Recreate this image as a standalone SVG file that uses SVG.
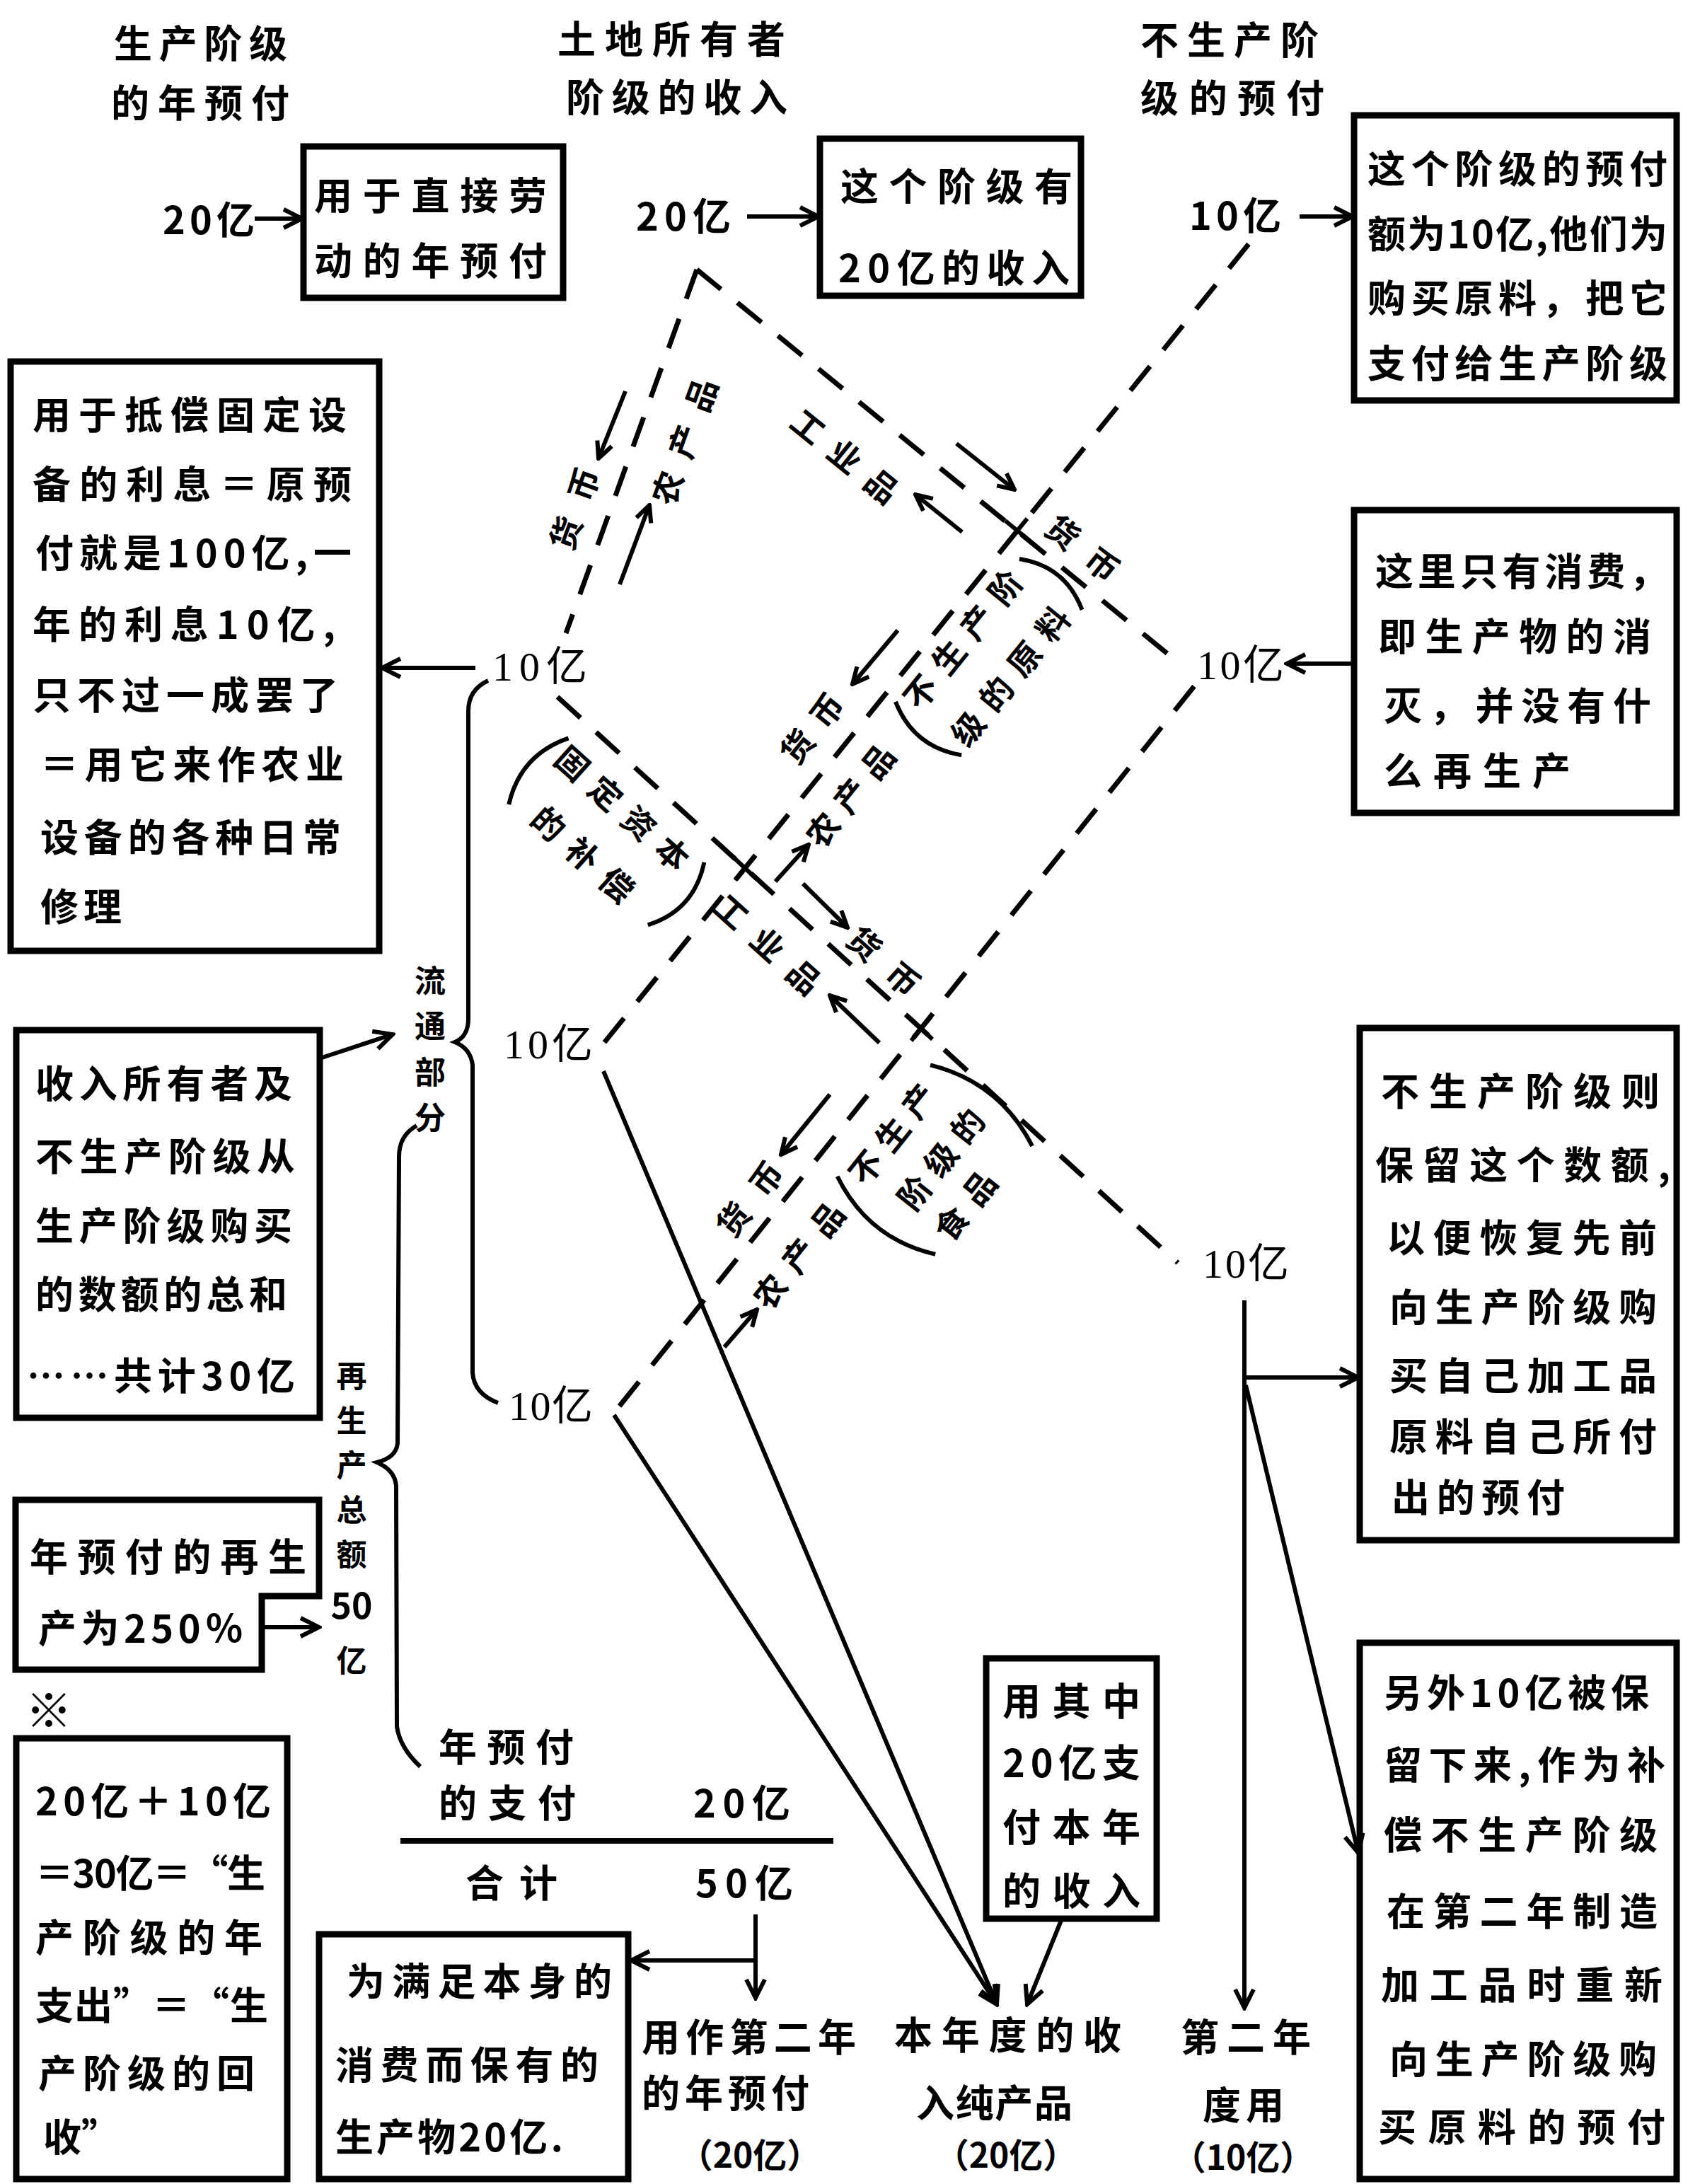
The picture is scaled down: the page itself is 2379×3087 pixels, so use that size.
<svg xmlns="http://www.w3.org/2000/svg" width="2379" height="3087" viewBox="0 0 2379 3087">
<style>
.t{font-family:"Noto Sans CJK SC","Noto Sans",sans-serif;font-weight:700;fill:#000;font-size:54px;dominant-baseline:central}
.v{font-family:"Noto Sans CJK SC","Noto Sans",sans-serif;font-weight:700;fill:#000;font-size:50px;dominant-baseline:central;text-anchor:middle}
.r{font-family:"Liberation Serif","Noto Sans CJK SC",serif;font-weight:400;fill:#000;font-size:58px;dominant-baseline:central}
.s{font-family:"Noto Sans CJK SC","Noto Sans",sans-serif;font-weight:700;fill:#000;font-size:46px;dominant-baseline:central;text-anchor:middle}
.m{text-anchor:middle}
.box{fill:none;stroke:#000;stroke-width:9}
.dash{fill:none;stroke:#000;stroke-width:7;stroke-dasharray:44 30}
.ln{fill:none;stroke:#000;stroke-width:6}
.ar{fill:none;stroke:#000;stroke-width:6;marker-end:url(#a)}
.sa{fill:none;stroke:#000;stroke-width:6;marker-end:url(#b)}
</style>
<defs>
<marker id="a" viewBox="0 0 36 36" refX="32" refY="18" markerWidth="36" markerHeight="36" markerUnits="userSpaceOnUse" orient="auto"><path d="M6,5 L32,18 L6,31" fill="none" stroke="#000" stroke-width="6"/></marker>
<marker id="b" viewBox="0 0 30 30" refX="27" refY="15" markerWidth="30" markerHeight="30" markerUnits="userSpaceOnUse" orient="auto"><path d="M4,4 L27,15 L4,26" fill="none" stroke="#000" stroke-width="6"/></marker>
</defs>
<rect width="2379" height="3087" fill="#fff"/>

<g id="headers">
<text class="t" x="161" y="58" textLength="245">生产阶级</text>
<text class="t" x="157" y="142" textLength="252">的年预付</text>
<text class="t" x="788" y="52" textLength="322">土地所有者</text>
<text class="t" x="800" y="134" textLength="313">阶级的收入</text>
<text class="t" x="1612" y="53" textLength="252">不生产阶</text>
<text class="t" x="1612" y="135" textLength="260">级的预付</text>
</g>

<g id="amounts">
<text class="t" x="230" y="307" textLength="130">20亿</text>
<text class="t" x="899" y="302" textLength="134">20亿</text>
<text class="t" x="1681" y="301" textLength="130">10亿</text>
<text class="r" x="696" y="942" textLength="134">10亿</text>
<text class="r" x="712" y="1476" textLength="126">10亿</text>
<text class="r" x="719" y="1987" textLength="119">10亿</text>
<text class="r" x="1692" y="940" textLength="123">10亿</text>
<text class="r" x="1700" y="1786" textLength="122">10亿</text>
</g>

<g id="boxA">
<rect class="box" x="429" y="207" width="367" height="214"/>
<text class="t" x="444" y="273" textLength="329">用于直接劳</text>
<text class="t" x="444" y="365" textLength="329">动的年预付</text>
</g>
<g id="boxB">
<rect class="box" x="1159" y="196" width="369" height="222"/>
<text class="t" x="1188" y="260" textLength="328">这个阶级有</text>
<text class="t" x="1185" y="375" textLength="327">20亿的收入</text>
</g>
<g id="boxC">
<rect class="box" x="1914" y="163" width="456" height="403"/>
<text class="t" x="1933" y="235" textLength="424">这个阶级的预付</text>
<text class="t" x="1933" y="327" textLength="424">额为10亿,他们为</text>
<text class="t" x="1933" y="418" textLength="424">购买原料，把它</text>
<text class="t" x="1933" y="510" textLength="424">支付给生产阶级</text>
</g>
<g id="boxD">
<rect class="box" x="15" y="511" width="521" height="833"/>
<text class="t" x="46" y="583" textLength="444">用于抵偿固定设</text>
<text class="t" x="46" y="681" textLength="451">备的利息＝原预</text>
<text class="t" x="50" y="778" textLength="447">付就是100亿,一</text>
<text class="t" x="46" y="879" textLength="428">年的利息10亿,</text>
<text class="t" x="46" y="979" textLength="432">只不过一成罢了</text>
<text class="t" x="57" y="1077" textLength="429">＝用它来作农业</text>
<text class="t" x="57" y="1180" textLength="425">设备的各种日常</text>
<text class="t" x="57" y="1278" textLength="115">修理</text>
</g>
<g id="boxE">
<rect class="box" x="1914" y="721" width="456" height="428"/>
<text class="t" x="1944" y="804" textLength="413">这里只有消费，</text>
<text class="t" x="1948" y="896" textLength="386">即生产物的消</text>
<text class="t" x="1956" y="994" textLength="378">灭，并没有什</text>
<text class="t" x="1956" y="1086" textLength="264">么再生产</text>
</g>
<g id="boxF">
<rect class="box" x="23" y="1456" width="429" height="548"/>
<text class="t" x="50" y="1528" textLength="363">收入所有者及</text>
<text class="t" x="50" y="1631" textLength="367">不生产阶级从</text>
<text class="t" x="50" y="1729" textLength="363">生产阶级购买</text>
<text class="t" x="50" y="1826" textLength="356">的数额的总和</text>
<text class="t" x="38" y="1941" textLength="379">……共计30亿</text>
</g>
<g id="boxG">
<path class="box" d="M22,2120 H451 V2256 H370 V2360 H22 Z"/>
<text class="t" x="42" y="2197" textLength="391">年预付的再生</text>
<text class="t" x="54" y="2298" textLength="290">产为250％</text>
</g>
<text class="t" x="36" y="2413" style="font-size:66px">※</text>
<g id="boxH">
<rect class="box" x="23" y="2457" width="383" height="623"/>
<text class="t" x="50" y="2542" textLength="333">20亿＋10亿</text>
<text class="t" x="50" y="2644" textLength="325">＝30亿＝“生</text>
<text class="t" x="50" y="2735" textLength="321">产阶级的年</text>
<text class="t" x="50" y="2831" textLength="329">支出”＝“生</text>
<text class="t" x="54" y="2927" textLength="306">产阶级的回</text>
<text class="t" x="61" y="3017">收”</text>
</g>
<g id="total">
<text class="t" x="620" y="2466" textLength="191">年预付</text>
<text class="t" x="620" y="2545" textLength="194">的支付</text>
<text class="t" x="980" y="2545" textLength="137">20亿</text>
<text class="t" x="658" y="2658" textLength="130">合计</text>
<text class="t" x="983" y="2658" textLength="138">50亿</text>
</g>
<g id="boxI">
<rect class="box" x="451" y="2734" width="437" height="346"/>
<text class="t" x="490" y="2797" textLength="375">为满足本身的</text>
<text class="t" x="474" y="2915" textLength="372">消费而保有的</text>
<text class="t" x="474" y="3017" textLength="322">生产物20亿.</text>
</g>
<g id="secondYearAdvance">
<text class="t" x="907" y="2876" textLength="303">用作第二年</text>
<text class="t" x="907" y="2955" textLength="237">的年预付</text>
<text class="t m" x="1060" y="3043" style="font-size:48px">（20亿）</text>
</g>
<g id="netProduct">
<text class="t" x="1264" y="2873" textLength="321">本年度的收</text>
<text class="t" x="1295" y="2969" textLength="221">入纯产品</text>
<text class="t m" x="1422" y="3043" style="font-size:48px">（20亿）</text>
</g>
<g id="secondYearUse">
<text class="t" x="1669" y="2876" textLength="184">第二年</text>
<text class="t" x="1700" y="2972" textLength="115">度用</text>
<text class="t m" x="1757" y="3046" style="font-size:48px">（10亿）</text>
</g>
<g id="boxJ">
<rect class="box" x="1394" y="2344" width="241" height="368"/>
<text class="t" x="1417" y="2401" textLength="195">用其中</text>
<text class="t" x="1417" y="2488" textLength="195">20亿支</text>
<text class="t" x="1417" y="2579" textLength="195">付本年</text>
<text class="t" x="1417" y="2669" textLength="195">的收入</text>
</g>
<g id="boxK">
<rect class="box" x="1922" y="1453" width="448" height="724"/>
<text class="t" x="1952" y="1539" textLength="394">不生产阶级则</text>
<text class="t" x="1944" y="1643" textLength="417">保留这个数额,</text>
<text class="t" x="1960" y="1746" textLength="382">以便恢复先前</text>
<text class="t" x="1964" y="1844" textLength="378">向生产阶级购</text>
<text class="t" x="1964" y="1941" textLength="378">买自己加工品</text>
<text class="t" x="1964" y="2027" textLength="378">原料自己所付</text>
<text class="t" x="1967" y="2113" textLength="245">出的预付</text>
</g>
<g id="boxL">
<rect class="box" x="1922" y="2322" width="448" height="758"/>
<text class="t" x="1956" y="2389" textLength="375">另外10亿被保</text>
<text class="t" x="1956" y="2491" textLength="398">留下来,作为补</text>
<text class="t" x="1956" y="2590" textLength="387">偿不生产阶级</text>
<text class="t" x="1960" y="2698" textLength="383">在第二年制造</text>
<text class="t" x="1952" y="2802" textLength="398">加工品时重新</text>
<text class="t" x="1964" y="2907" textLength="378">向生产阶级购</text>
<text class="t" x="1948" y="3003" textLength="406">买原料的预付</text>
</g>
<g id="circulation">
<text class="v" x="608" y="1384" style="font-size:44px">流<tspan x="608" dy="64">通</tspan><tspan x="608" dy="65">部</tspan><tspan x="608" dy="64">分</tspan></text>
</g>
<g id="reproduction">
<text class="v" x="497" y="1942" style="font-size:43px">再<tspan x="497" dy="63">生</tspan><tspan x="497" dy="63">产</tspan><tspan x="497" dy="63">总</tspan><tspan x="497" dy="63">额</tspan><tspan x="497" dy="72" style="font-size:50px">50</tspan><tspan x="497" dy="78">亿</tspan></text>
</g>

<g id="flowLabels">
<text class="s" transform="translate(810,718) rotate(-70)" textLength="120">货币</text>
<text class="s" transform="translate(965,623) rotate(-70)" textLength="186">农产品</text>
<text class="s" transform="translate(1196,643) rotate(39)" textLength="180">工业品</text>
<text class="s" transform="translate(1532,773) rotate(39)" textLength="118">货币</text>
<text class="s" transform="translate(1146,1028) rotate(-51)" textLength="112">货币</text>
<text class="s" transform="translate(1200,1123) rotate(-51)" textLength="170">农产品</text>
<text class="s" transform="translate(1087,1333) rotate(42)" textLength="184">工业品</text>
<text class="s" transform="translate(1251,1357) rotate(42)" textLength="120">货币</text>
<text class="s" transform="translate(1058,1693) rotate(-51.5)" textLength="120">货币</text>
<text class="s" transform="translate(1127,1773) rotate(-51.5)" textLength="176">农产品</text>
<g transform="translate(1383,922) rotate(-51)">
<text class="s" x="0" y="-31" textLength="236">不生产阶</text>
<text class="s" x="2" y="54" textLength="236">级的原料</text>
<path class="ln" d="M-128,-47 Q-162,13 -128,73"/>
<path class="ln" d="M139,-38 Q172,19 139,76"/>
</g>
<g transform="translate(860,1175) rotate(42)">
<text class="s" x="-7" y="-40" textLength="236">固定资本</text>
<text class="s" x="-5" y="46" textLength="176">的补偿</text>
<path class="ln" d="M-130,-60 Q-165,3 -130,66"/>
<path class="ln" d="M130,-58 Q165,2 130,61"/>
</g>
<g transform="translate(1328,1637) rotate(-51.5)">
<text class="s" x="-15" y="-76" textLength="166">不生产</text>
<text class="s" x="0" y="0" textLength="166">阶级的</text>
<text class="s" x="-30" y="68" textLength="110">食品</text>
<path class="ln" d="M-110,-97 Q-152,-8 -110,80"/>
<path class="ln" d="M95,-92 Q137,0 95,92"/>
</g>
</g>

<g id="connectors">
<path class="dash" d="M985,381 L800,895"/>
<path class="dash" d="M985,381 L1670,940"/>
<path class="dash" d="M1765,345 L845,1485"/>
<path class="dash" d="M788,985 L1665,1785"/>
<path class="dash" d="M1688,970 L868,1997"/>
<path class="ln" d="M1421,736 L1455,764 M1452,733 L1424,767"/>
<path class="ln" d="M1067,1210 L1039,1244 M1037,1212 L1069,1242"/>
<path class="ln" d="M1286,1439 L1318,1469 M1316,1437 L1288,1471"/>

<path class="ar" d="M360,309 L427,309"/>
<path class="ar" d="M1056,306 L1157,306"/>
<path class="ar" d="M1837,306 L1912,306"/>
<path class="ar" d="M672,944 L540,944"/>
<path class="ar" d="M1914,938 L1819,938"/>
<path class="ar" d="M452,1496 L555,1462"/>
<path class="ar" d="M370,2300 L451,2300"/>
<path class="ar" d="M1068,2706 L1068,2824"/>
<path class="ar" d="M1068,2771 L892,2771"/>
<path class="ar" d="M853,1514 L1409,2833"/>
<path class="ar" d="M868,2000 L1409,2833"/>
<path class="ar" d="M1501,2712 L1452,2833"/>
<path class="ar" d="M1759,1838 L1759,2838"/>
<path class="ar" d="M1759,1947 L1920,1947"/>
<path class="ar" d="M1761,1958 L1920,2619"/>

<path class="sa" d="M884,553 L846,648"/>
<path class="sa" d="M876,826 L918,714"/>
<path class="sa" d="M1352,627 L1434,692"/>
<path class="sa" d="M1360,752 L1294,699"/>
<path class="sa" d="M1269,891 L1205,967"/>
<path class="sa" d="M1096,1246 L1143,1194"/>
<path class="sa" d="M1135,1249 L1198,1311"/>
<path class="sa" d="M1243,1474 L1173,1407"/>
<path class="sa" d="M1173,1547 L1104,1632"/>
<path class="sa" d="M1024,1904 L1070,1851"/>

<path class="ln" d="M690,962 Q662,975 662,1005 L662,1440 Q662,1465 643,1473 Q665,1482 668,1505 L668,1940 Q670,1970 704,1983"/>
<path class="ln" d="M589,1591 Q564,1605 564,1635 L562,2040 Q560,2060 533,2067 Q558,2078 560,2100 L561,2440 Q565,2470 594,2497"/>
<path class="ln" d="M566,2602 L1178,2602" style="stroke-width:8"/>
</g>
</svg>
